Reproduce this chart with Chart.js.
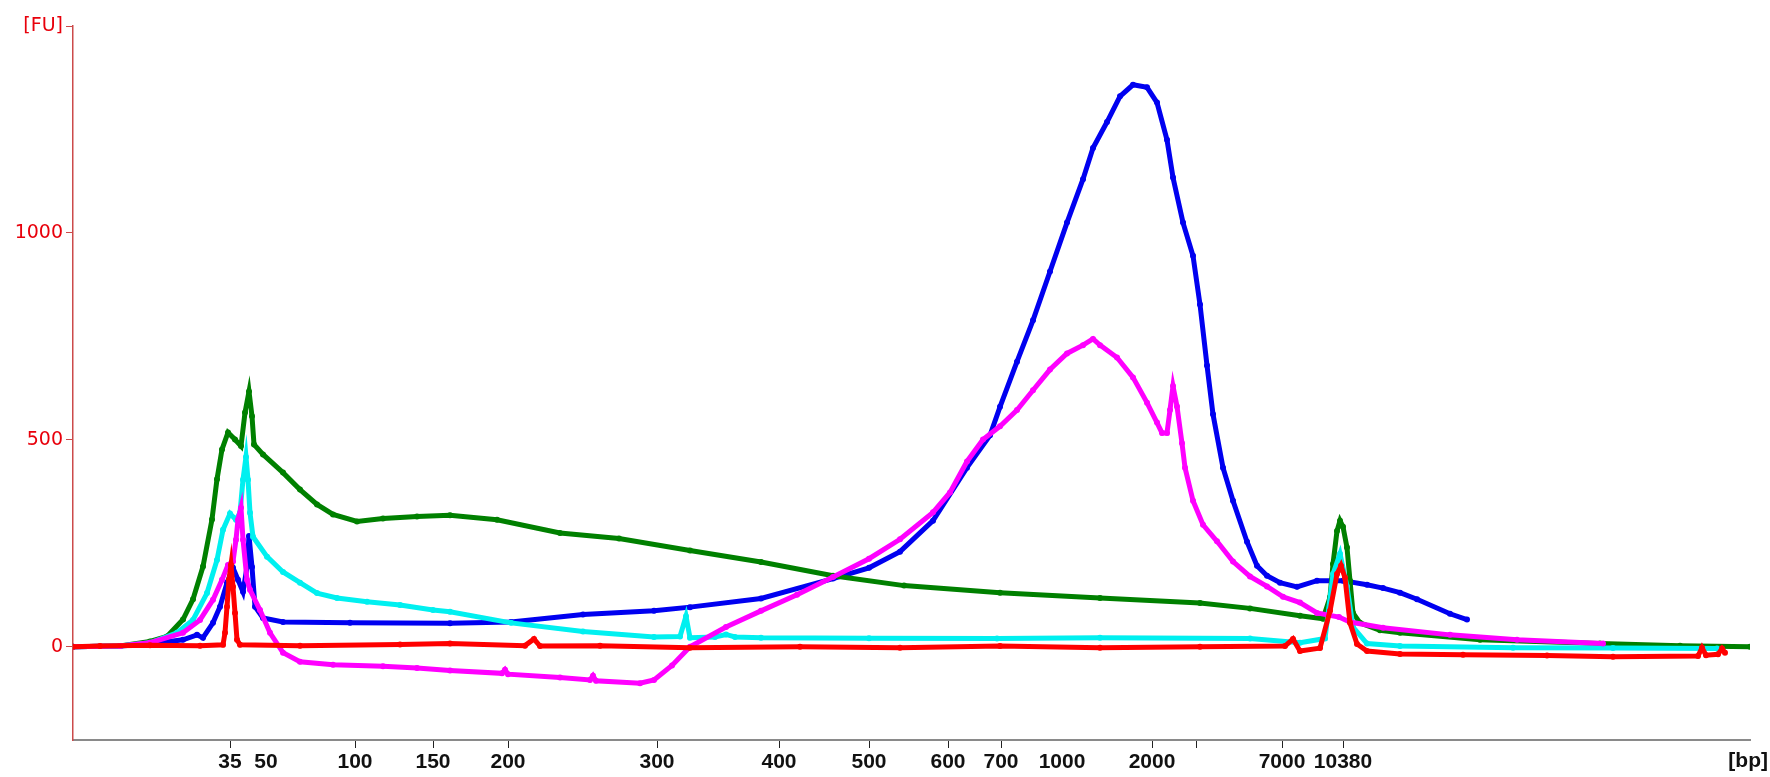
<!DOCTYPE html>
<html>
<head>
<meta charset="utf-8">
<title>Electropherogram</title>
<script src="https://cdn.jsdelivr.net/npm/chart.js@4.4.1/dist/chart.umd.min.js"></script>
<style>
  html, body { margin: 0; padding: 0; background: #fff; }
  canvas { display: block; }
</style>
</head>
<body>
<canvas id="electro" width="1770" height="777"></canvas>
<script>
// migration time [s] of the ladder peaks and their sizes in bp
const ladderTimes = [47.85, 49.65, 54.1, 58.0, 61.75, 69.2, 75.3, 79.8, 83.75, 86.4, 89.45, 93.95, 96.15, 100.45, 103.5];
const ladderSizes = ['35', '50', '100', '150', '200', '300', '400', '500', '600', '700', '1000', '2000', '', '7000', '10380'];
const unmarkedSizes = ['50', '1000'];   // label only, no tick mark

const fuTicks = [0, 500, 1000, 1500];

// [time s, FU]
const sampleRed = [
  [40.00, 0], [41.35, 2], [43.85, 4], [46.35, 3], [47.50, 5], [47.60, 34], [47.70, 97], [47.80, 162],
  [47.90, 198], [48.00, 145], [48.10, 82], [48.20, 17], [48.35, 5], [51.35, 3], [56.35, 6], [58.85, 8],
  [62.60, 3], [63.05, 19], [63.35, 2], [66.35, 3], [70.85, -2], [76.35, 0], [81.35, -2], [86.35, 2],
  [91.35, -2], [96.35, 0], [100.60, 2], [101.00, 19], [101.35, -10], [102.35, -3], [102.85, 87],
  [103.20, 176], [103.40, 196], [103.60, 167], [103.85, 58], [104.20, 7], [104.70, -10], [106.35, -17],
  [109.50, -19], [113.70, -21], [117.00, -24], [121.25, -22], [121.45, -2], [121.65, -20], [122.25, -18],
  [122.45, -4], [122.60, -14]
];

const sampleMagenta = [
  [40.00, 0], [42.35, 2], [43.85, 10], [45.50, 34], [46.35, 65], [47.00, 114], [47.45, 162], [47.75, 198],
  [48.00, 206], [48.15, 259], [48.25, 307], [48.40, 336], [48.50, 259], [48.70, 162], [48.85, 138],
  [49.35, 89], [49.85, 34], [50.50, -14], [51.35, -36], [53.00, -43], [55.50, -47], [57.20, -51],
  [58.85, -57], [61.45, -64], [61.60, -55], [61.75, -66], [64.35, -74], [65.85, -80], [66.00, -70],
  [66.15, -82], [68.35, -88], [69.05, -80], [69.95, -45], [70.85, 0], [72.65, 48], [74.40, 87],
  [76.20, 126], [78.00, 169], [79.80, 213], [81.35, 260], [83.00, 325], [83.85, 373], [84.70, 448],
  [85.50, 501], [86.35, 533], [87.20, 572], [88.00, 620], [88.85, 670], [89.70, 709], [90.50, 729],
  [91.00, 744], [91.35, 729], [92.20, 699], [93.00, 651], [93.70, 590], [94.20, 542], [94.45, 517],
  [94.70, 517], [94.85, 572], [95.00, 630], [95.20, 581], [95.45, 492], [95.60, 433], [96.00, 353],
  [96.50, 295], [97.20, 255], [98.00, 206], [98.85, 170], [99.70, 146], [100.50, 121], [101.35, 107],
  [102.20, 82], [103.30, 72], [103.85, 60], [105.50, 46], [108.85, 29], [112.20, 17], [116.50, 8]
];

const sampleCyan = [
  [40.00, 0], [42.35, 2], [43.85, 10], [45.20, 34], [46.00, 65], [46.70, 130], [47.20, 210], [47.50, 283],
  [47.85, 322], [48.15, 307], [48.35, 324], [48.50, 404], [48.65, 459], [48.75, 404], [48.85, 324],
  [49.00, 266], [49.70, 218], [50.50, 181], [51.35, 155], [52.20, 130], [53.20, 118], [54.70, 109],
  [56.35, 101], [58.00, 89], [58.85, 85], [61.90, 58], [65.50, 37], [69.05, 24], [70.35, 25],
  [70.65, 74], [70.85, 22], [72.10, 24], [72.65, 30], [73.10, 24], [74.40, 22], [79.80, 21],
  [86.20, 20], [91.35, 22], [98.85, 20], [101.35, 10], [102.60, 20], [103.00, 176], [103.35, 225],
  [103.70, 146], [104.00, 48], [104.70, 8], [106.35, 2], [112.00, -2], [117.00, -3], [122.20, -4]
];

const sampleGreen = [
  [40.00, 0], [42.35, 2], [43.85, 13], [44.70, 25], [45.50, 66], [46.00, 115], [46.50, 194], [46.95, 308],
  [47.20, 405], [47.45, 477], [47.75, 518], [48.10, 501], [48.40, 485], [48.60, 566], [48.80, 617],
  [48.95, 557], [49.05, 489], [49.50, 465], [50.50, 421], [51.35, 380], [52.20, 344], [53.00, 320],
  [54.20, 303], [55.50, 310], [57.20, 315], [58.85, 318], [61.20, 307], [64.35, 275], [67.30, 262],
  [70.85, 233], [74.40, 205], [78.00, 172], [81.55, 148], [86.35, 131], [91.35, 118], [96.35, 106],
  [98.85, 93], [101.35, 75], [102.50, 68], [102.85, 120], [103.00, 200], [103.20, 280], [103.35, 305],
  [103.50, 290], [103.70, 240], [103.85, 160], [104.00, 82], [104.35, 58], [105.35, 40], [106.35, 34],
  [110.35, 17], [116.35, 8], [120.35, 3], [123.85, 0]
];

const sampleBlue = [
  [40.00, 0], [42.35, 2], [43.85, 7], [45.50, 17], [46.20, 29], [46.50, 22], [47.00, 58], [47.35, 97],
  [47.70, 155], [48.00, 191], [48.25, 162], [48.50, 133], [48.70, 193], [48.80, 268], [48.95, 193],
  [49.10, 97], [49.50, 70], [50.50, 60], [53.85, 58], [58.85, 57], [61.90, 60], [65.50, 78], [69.05, 87],
  [70.85, 96], [74.40, 117], [78.00, 165], [79.80, 191], [81.35, 230], [83.00, 305], [84.70, 433],
  [85.85, 511], [86.35, 580], [87.20, 689], [88.00, 789], [88.85, 907], [89.70, 1025], [90.50, 1130],
  [91.00, 1205], [91.70, 1268], [92.35, 1330], [93.00, 1358], [93.70, 1352], [94.20, 1315], [94.70, 1225],
  [95.00, 1134], [95.50, 1025], [96.00, 945], [96.35, 827], [96.70, 680], [97.00, 562], [97.50, 433],
  [98.00, 353], [98.70, 254], [99.20, 196], [99.70, 172], [100.35, 155], [101.20, 145], [102.20, 160],
  [103.50, 160], [104.70, 150], [105.50, 142], [106.35, 131], [107.20, 115], [108.85, 80], [109.70, 66]
];

const toXY = arr => arr.map(p => ({ x: p[0], y: p[1] }));

function trace(label, data, color) {
  return {
    label: label,
    data: toXY(data),
    borderColor: color,
    backgroundColor: color,
    borderWidth: 5,
    pointRadius: 3,
    pointBorderWidth: 0,
    pointBackgroundColor: color,
    tension: 0,
    fill: false
  };
}

// "[bp]" unit text at the end of the x axis
const bpLabel = {
  id: 'bpLabel',
  afterDraw(chart) {
    const ctx = chart.ctx;
    ctx.save();
    ctx.font = 'bold 21px "Liberation Sans", Arial, sans-serif';
    ctx.fillStyle = '#111';
    ctx.textAlign = 'right';
    ctx.textBaseline = 'middle';
    ctx.fillText('[bp]', chart.width - 2, 761);
    ctx.restore();
  }
};

new Chart(document.getElementById('electro').getContext('2d'), {
  type: 'line',
  data: {
    // first dataset is painted last (on top)
    datasets: [
      trace('Sample 5', sampleRed, '#ff0000'),
      trace('Sample 4', sampleMagenta, '#ff00ff'),
      trace('Sample 3', sampleCyan, '#00f0f0'),
      trace('Sample 2', sampleGreen, '#008000'),
      trace('Sample 1', sampleBlue, '#0000f0')
    ]
  },
  options: {
    responsive: false,
    animation: false,
    devicePixelRatio: 1,
    layout: { padding: { top: 26, right: 20, left: 0, bottom: 0 } },
    plugins: {
      legend: { display: false },
      tooltip: { enabled: false }
    },
    scales: {
      x: {
        type: 'linear',
        min: 40,
        max: 123.85,
        afterBuildTicks(scale) {
          scale.ticks = ladderTimes.map(v => ({ value: v }));
        },
        afterFit(scale) { scale.height = 37; },
        ticks: {
          autoSkip: false,
          maxRotation: 0,
          padding: 2,
          color: '#111',
          font: { family: '"Liberation Sans", Arial, sans-serif', size: 21, weight: 'bold' },
          callback: (value, index) => ladderSizes[index]
        },
        grid: {
          drawOnChartArea: false,
          tickLength: 8,
          tickWidth: 1,
          tickColor: ctx => unmarkedSizes.includes(ladderSizes[ctx.index]) ? 'rgba(0,0,0,0)' : '#222'
        },
        border: { color: '#8a8a8a', width: 2 }
      },
      y: {
        min: -225,
        max: 1500,
        afterBuildTicks(scale) {
          scale.ticks = fuTicks.map(v => ({ value: v }));
        },
        afterFit(scale) { scale.width = 73; },
        ticks: {
          padding: 3,
          color: '#e8000b',
          font: { family: '"DejaVu Sans", Verdana, sans-serif', size: 19 },
          callback: v => (v === 1500 ? '[FU]' : String(v))
        },
        grid: {
          drawOnChartArea: false,
          tickLength: 7,
          tickColor: '#cc4a4a'
        },
        border: { color: '#cc4a4a', width: 1.5 }
      }
    }
  },
  plugins: [bpLabel]
});
</script>
</body>
</html>
